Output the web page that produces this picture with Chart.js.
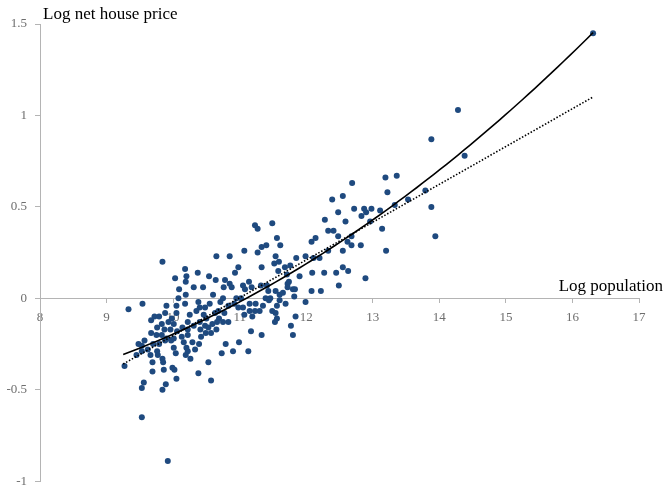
<!DOCTYPE html>
<html>
<head>
<meta charset="utf-8">
<script src="https://cdn.jsdelivr.net/npm/chart.js@4.4.1/dist/chart.umd.min.js"></script>
<style>
  html, body { margin: 0; padding: 0; background: #fff; overflow: hidden; }
  #outer { width: 666px; height: 486px; overflow: hidden; }
  #wrap { width: 666px; height: 497px; }
</style>
</head>
<body>
<div id="outer"><div id="wrap"><canvas id="chart"></canvas></div></div>
<script>
// Axis titles
const xTitle = "Log population";
const yTitle = "Log net house price";

// Scatter: log population (x) and log net house price (y)
const popX = [
  9.84,10.65,10.18,10.37,10.20,10.03,10.54,10.64,10.19,10.09,10.31,10.45,
  10.08,10.19,10.60,9.54,9.33,9.90,10.05,10.18,10.38,10.48,10.55,10.68,9.72,9.79,9.67,9.88,9.98,10.05,
  10.25,10.35,10.40,10.46,10.50,10.63,10.69,9.83,9.93,10.01,10.14,10.22,10.31,10.40,10.48,10.59,10.66,
  9.76,9.87,9.96,10.06,10.22,10.41,10.53,10.65,9.67,9.75,9.83,9.90,10.01,10.13,10.22,10.42,10.49,10.57,
  9.48,9.57,9.53,9.62,9.70,9.79,9.88,9.97,10.01,10.16,10.20,10.29,10.33,10.39,9.45,9.53,9.66,9.76,9.77,
  9.84,10.04,10.19,10.22,10.26,9.27,9.69,9.85,9.99,10.02,9.86,9.69,10.38,10.53,10.05,10.57,9.56,9.89,
  9.53,9.84,9.53,9.92,
  11.23,11.27,11.49,12.28,12.33,11.56,10.85,11.07,11.33,11.40,11.61,11.27,11.54,11.52,11.59,11.85,11.99,
  12.08,12.14,12.11,12.33,10.98,10.93,11.33,11.68,11.76,11.58,11.71,11.90,12.09,12.27,10.78,10.85,10.88,
  10.76,11.05,11.14,11.08,11.18,11.32,11.41,11.43,11.46,11.54,11.60,11.65,11.72,11.74,11.72,11.80,11.83,
  11.82,12.08,11.99,10.75,10.95,11.02,11.39,11.44,10.71,10.83,10.92,10.98,11.05,11.15,11.24,11.30,11.35,
  11.49,11.56,11.60,11.69,10.75,10.83,10.77,11.07,11.15,11.19,11.23,11.54,11.56,11.53,11.84,11.77,11.80,
  11.17,11.33,10.79,10.99,10.90,11.13,10.73,12.22,
  12.69,12.39,12.55,13.19,13.36,13.22,13.53,13.33,12.48,12.72,12.87,12.98,12.90,12.83,13.11,12.96,12.59,
  12.41,12.48,12.68,12.62,13.14,12.68,12.55,12.82,13.20,12.20,12.55,12.63,12.45,12.89,12.49,
  13.79,13.88,13.94,13.88,14.28,14.38,16.31
];
const priceY = [
  0.20,0.23,0.16,0.14,0.12,0.11,0.12,0.10,0.09,0.05,0.06,0.06,
  0.00,0.02,0.02,-0.03,-0.06,-0.04,-0.04,-0.03,-0.02,-0.05,-0.03,-0.07,-0.10,-0.10,-0.12,-0.08,-0.11,-0.08,
  -0.09,-0.07,-0.05,-0.09,-0.11,-0.08,-0.11,-0.14,-0.13,-0.14,-0.16,-0.13,-0.15,-0.13,-0.15,-0.14,-0.13,
  -0.16,-0.17,-0.17,-0.18,-0.17,-0.17,-0.16,-0.17,-0.19,-0.20,-0.20,-0.22,-0.22,-0.21,-0.20,-0.21,-0.19,-0.19,
  -0.25,-0.23,-0.26,-0.28,-0.25,-0.25,-0.23,-0.23,-0.27,-0.24,-0.27,-0.24,-0.28,-0.25,-0.31,-0.29,-0.31,-0.29,-0.31,
  -0.33,-0.30,-0.31,-0.29,-0.33,-0.37,-0.35,-0.35,-0.38,-0.39,-0.39,-0.40,-0.41,-0.35,-0.44,-0.45,-0.46,-0.47,
  -0.49,-0.50,-0.65,-0.89,
  0.40,0.38,0.41,0.43,0.37,0.33,0.23,0.26,0.28,0.29,0.29,0.25,0.23,0.19,0.20,0.22,0.23,
  0.31,0.33,0.22,0.26,0.17,0.14,0.17,0.17,0.18,0.15,0.13,0.12,0.14,0.14,0.10,0.08,0.06,
  0.06,0.07,0.09,0.05,0.06,0.07,0.07,0.04,0.00,0.04,0.02,0.03,0.08,0.09,0.06,0.05,0.05,
  0.01,0.04,-0.02,0.00,0.00,0.00,0.00,-0.01,-0.02,-0.04,-0.03,-0.05,-0.05,-0.03,-0.03,-0.07,-0.04,
  -0.07,-0.04,-0.01,-0.03,-0.13,-0.13,-0.08,-0.09,-0.07,-0.10,-0.07,-0.08,-0.11,-0.13,-0.10,-0.15,-0.20,
  -0.18,-0.20,-0.25,-0.24,-0.29,-0.29,-0.30,0.04,
  0.63,0.54,0.56,0.66,0.67,0.58,0.54,0.51,0.47,0.49,0.49,0.49,0.47,0.45,0.48,0.42,0.42,
  0.37,0.34,0.34,0.31,0.38,0.29,0.26,0.29,0.26,0.22,0.17,0.15,0.14,0.11,0.07,
  0.59,0.50,0.34,0.87,1.03,0.78,1.45
];

// Fitted trend lines (coefficients)
const quadCoef = [-0.1987, -0.1597, 0.016];  // solid: c0 + c1*x + c2*x^2
const linCoef = [-2.272, 0.2068];              // dotted: c0 + c1*x
const fitRange = [9.25, 16.31];

const points = popX.map((x, i) => ({ x: x, y: priceY[i] }));

function curve(coef) {
  const out = [];
  const n = 80;
  for (let i = 0; i <= n; i++) {
    const x = fitRange[0] + (fitRange[1] - fitRange[0]) * i / n;
    let y = 0;
    coef.forEach((c, k) => { y += c * Math.pow(x, k); });
    out.push({ x: x, y: y });
  }
  return out;
}

const axisGrey = "#b4b4b4";
const tickGrey = "#6e6e6e";
const serif = '"Liberation Serif", "DejaVu Serif", serif';

// draws the two axis titles where the original puts them
const axisTitles = {
  id: "axisTitles",
  afterDraw(chart) {
    const { ctx, chartArea, scales } = chart;
    ctx.save();
    ctx.font = '17px ' + serif;
    ctx.fillStyle = "#000";
    ctx.textBaseline = "alphabetic";
    ctx.textAlign = "left";
    ctx.fillText(yTitle, chartArea.left + 3, chartArea.top - 5);
    ctx.textAlign = "right";
    ctx.fillText(xTitle, chart.width - 3, scales.y.getPixelForValue(0) - 7);
    ctx.restore();
  }
};

const ctx = document.getElementById("chart").getContext("2d");

new Chart(ctx, {
  type: "scatter",
  data: {
    datasets: [
      {
        label: "Quadratic fit",
        type: "line",
        data: curve(quadCoef),
        borderColor: "#000",
        borderWidth: 1.6,
        pointRadius: 0,
        fill: false,
        order: 0
      },
      {
        label: "Linear fit",
        type: "line",
        data: curve(linCoef),
        borderColor: "#000",
        borderWidth: 1.6,
        borderDash: [1.5, 1.8],
        pointRadius: 0,
        fill: false,
        order: 0
      },
      {
        label: "Cities",
        data: points,
        backgroundColor: "#1f4a7f",
        borderWidth: 0,
        pointRadius: 3,
        pointHoverRadius: 3,
        order: 1
      }
    ]
  },
  options: {
    responsive: true,
    maintainAspectRatio: false,
    animation: false,
    layout: { padding: { top: 24, right: 27, bottom: 0, left: 0 } },
    plugins: {
      legend: { display: false },
      tooltip: { enabled: false }
    },
    scales: {
      x: {
        type: "linear",
        min: 8,
        max: 17,
        position: { y: 0 },
        ticks: { stepSize: 1, color: tickGrey, font: { family: serif, size: 13 }, padding: 7 },
        grid: { drawOnChartArea: false, drawTicks: true, tickLength: 4, color: axisGrey },
        border: { color: axisGrey, width: 1 }
      },
      y: {
        type: "linear",
        min: -1,
        max: 1.5,
        position: "left",
        ticks: {
          stepSize: 0.5,
          color: tickGrey,
          font: { family: serif, size: 13 },
          padding: 8,
          callback: v => String(Math.round(v * 10) / 10)
        },
        grid: { drawOnChartArea: false, drawTicks: true, tickLength: 5, color: axisGrey },
        border: { color: axisGrey, width: 1 },
        afterFit(scale) { scale.width = 40; }
      }
    }
  },
  plugins: [axisTitles]
});
</script>
</body>
</html>
